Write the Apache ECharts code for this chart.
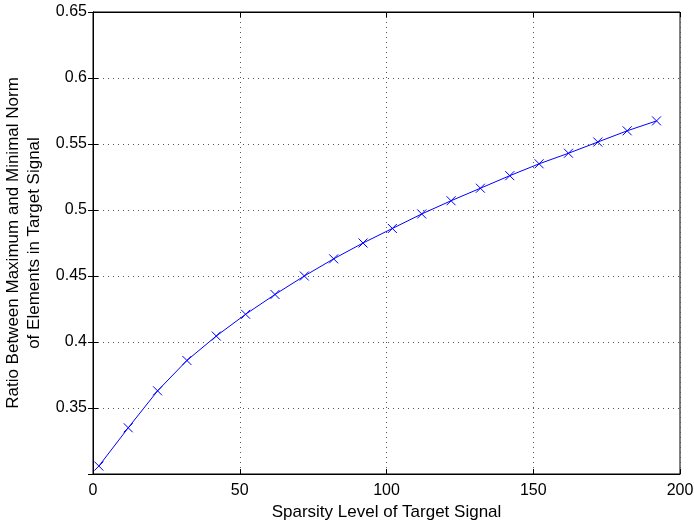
<!DOCTYPE html>
<html>
<head>
<meta charset="utf-8">
<script src="https://cdn.jsdelivr.net/npm/echarts@6/dist/echarts.min.js"></script>
<style>
html,body{margin:0;padding:0;background:#fff;}
#main{width:694px;height:523px;}
</style>
</head>
<body>
<div id="main"></div>
<script>
// sparsity levels
var sparsity = [2, 12, 22, 32, 42, 52, 62, 72, 82, 92, 102, 112, 122, 132, 142, 152, 162, 172, 182, 192];
// ratio between max and min norm
var ratio = [0.306, 0.335, 0.363, 0.386, 0.4045, 0.421, 0.436, 0.450, 0.463, 0.475,
	0.486, 0.497, 0.507, 0.5165, 0.526, 0.535, 0.543, 0.5515, 0.560, 0.5675];

var xTitle = 'Sparsity Level of Target Signal';
var yTitle = 'Ratio Between Maximum and Minimal Norm\nof Elements in Target Signal';

var chart = echarts.init(document.getElementById('main'));

var pts = [];
for (var i = 0; i < sparsity.length; i++) {
	pts.push([sparsity[i], ratio[i]]);
}

var font = 'Liberation Sans, Arial, Helvetica, sans-serif';
var gridLine = {show: true, lineStyle: {color: '#555', type: [1, 4], width: 1}};

var option = {
	animation: false,
	backgroundColor: '#fff',
	grid: {
		left: 93, right: 14, top: 12, bottom: 49,
		containLabel: false, outerBoundsMode: 'none',
		show: true, borderColor: '#000', borderWidth: 1
	},
	xAxis: [{
		type: 'value', min: 0, max: 200, interval: 50,
		position: 'bottom',
		name: xTitle, nameLocation: 'middle', nameGap: 24,
		nameTextStyle: {fontFamily: font, fontSize: 17, color: '#000'},
		axisLine: {show: true, lineStyle: {color: '#000', width: 1}},
		axisTick: {show: true, inside: true, length: 5, lineStyle: {color: '#000'}},
		axisLabel: {fontFamily: font, fontSize: 16, color: '#000', margin: 9},
		splitLine: gridLine
	}, {
		type: 'value', min: 0, max: 200, interval: 50,
		position: 'top',
		axisLine: {show: true, lineStyle: {color: '#000'}},
		axisTick: {show: true, inside: true, length: 5, lineStyle: {color: '#000'}},
		axisLabel: {show: false},
		splitLine: {show: false}
	}],
	yAxis: [{
		type: 'value', min: 0.3, max: 0.65, interval: 0.05,
		position: 'left',
		name: yTitle, nameLocation: 'middle', nameGap: 46, nameRotate: 90,
		nameTextStyle: {fontFamily: font, fontSize: 17, color: '#000', lineHeight: 21},
		axisLine: {show: true, lineStyle: {color: '#000', width: 1}},
		axisTick: {show: true, inside: true, length: 5, lineStyle: {color: '#000'}},
		axisLabel: {
			fontFamily: font, fontSize: 16, color: '#000', margin: 6,
			formatter: function (v) {
				if (Math.abs(v - 0.3) < 1e-6) return '';
				return String(Math.round(v * 100) / 100);
			}
		},
		splitLine: gridLine
	}, {
		type: 'value', min: 0.3, max: 0.65, interval: 0.05,
		position: 'right',
		axisLine: {show: true, lineStyle: {color: '#000'}},
		axisTick: {show: true, inside: true, length: 5, lineStyle: {color: '#000'}},
		axisLabel: {show: false},
		splitLine: {show: false}
	}],
	series: [{
		type: 'line',
		data: pts,
		lineStyle: {color: '#0000ff', width: 1},
		symbol: 'path://M0,0L10,10M10,0L0,10',
		symbolSize: 9,
		showSymbol: true,
		itemStyle: {color: '#0000ff', borderColor: '#0000ff', borderWidth: 1}
	}]
};

chart.setOption(option);
</script>
</body>
</html>
